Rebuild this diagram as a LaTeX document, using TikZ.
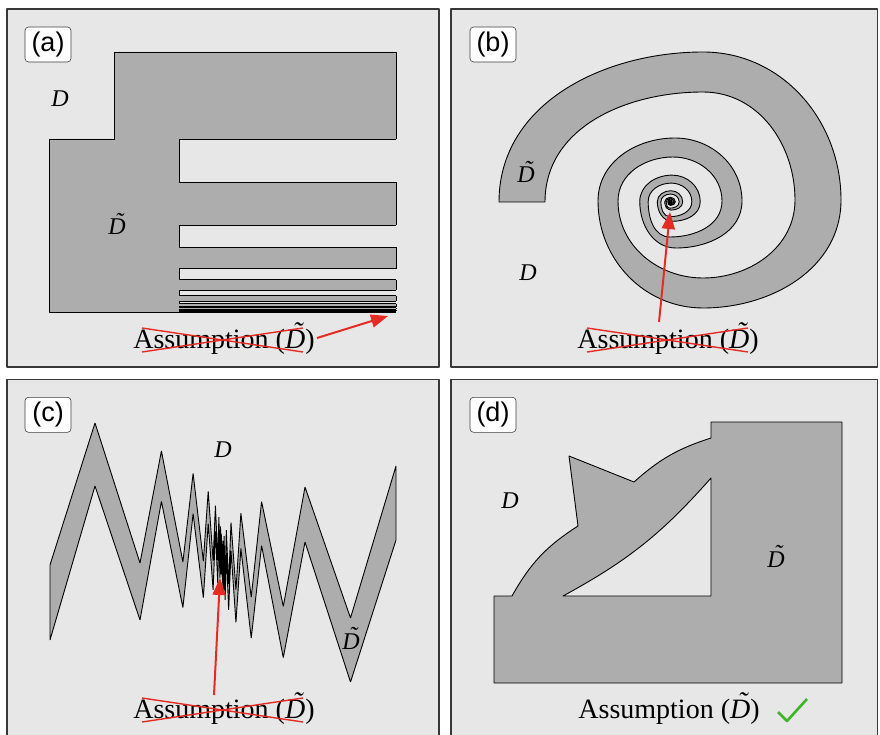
\documentclass[tikz,border=0pt]{standalone}
\usepackage{fontspec}
\setmainfont{Liberation Serif}
\newfontfamily\labfont{Liberation Sans}
\usetikzlibrary{calc,arrows.meta}
\definecolor{panelbg}{RGB}{231,231,231}
\definecolor{shapegray}{RGB}{173,173,173}
\definecolor{redmark}{RGB}{228,44,36}
\definecolor{greenmark}{RGB}{60,181,40}
\newcommand{\Dtil}{\textit{\rlap{\hspace{0.28em}\raisebox{0.22em}{\symbol{"02DC}}}D}}
\begin{document}
\begin{tikzpicture}[x=1pt,y=-1pt,line join=round,
  panel/.style={fill=panelbg,draw=black!78,line width=1.2pt},
  region/.style={fill=shapegray,draw=black,line width=0.9pt},
  tag/.style={draw=black!75,fill=white,rounded corners=3.5pt,line width=0.6pt,minimum width=46pt,minimum height=35pt,inner sep=0pt,font=\labfont\fontsize{27}{27}\selectfont},
  lbl/.style={inner sep=0pt,anchor=base,font=\fontsize{24}{24}\selectfont},
  assume/.style={inner sep=0pt,anchor=base,font=\fontsize{28}{28}\selectfont},
  cross/.style={draw=redmark,line width=1.4pt},
  redarrow/.style={draw=redmark,line width=2pt,-{Triangle[length=17pt,width=13pt]}}]
\useasboundingbox (0,0) rectangle (880,735);
\fill[white] (0,0) rectangle (880,735);
% panels
\draw[panel] (7,9) rectangle (439,367);
\draw[panel] (451,9) rectangle (877.5,367);
\draw[panel] (7,379.5) rectangle (439,745);
\draw[panel] (451,379.5) rectangle (877.5,745);
\node[tag] (taga) at (48,44.5) {(a)};
\node[tag] (tagb) at (493,44.5) {(b)};
\node[tag] (tagc) at (48,414.8) {(c)};
\node[tag] (tagd) at (493,414.8) {(d)};

% ---------- (a) comb ----------
\filldraw[region] (114,52) -- (396,52) -- (396,312) -- (49,312) -- (49,139) -- (114,139) -- cycle;
\foreach \k in {0,...,13} {
  \pgfmathsetmacro\ya{312-173*0.5^\k}
  \pgfmathsetmacro\yb{312-173*0.5^\k+43.25*0.5^\k}
  \fill[panelbg] (179,\ya) rectangle (396.6,\yb);
  \draw[line width=0.9pt] (396,\ya) -- (179,\ya) -- (179,\yb) -- (396,\yb);
}
\node[lbl] (Da) at (60,107) {\textit{D}};
\node[lbl] (Dta) at (117,235) {\Dtil};
\node[assume] (asa) at (224,348) {Assumption (\Dtil)};
\draw[cross] (142,328) -- (303,352);
\draw[cross] (142,352) -- (303,328);
\coordinate (aa1) at (317,338);
\coordinate (aa2) at (388,316);
\draw[redarrow] (aa1) -- (aa2);

% ---------- (b) spiral ----------
\coordinate (C) at (670,202);
\coordinate (oL0) at (499,202); \coordinate (oT0) at (703,52);
\coordinate (oR0) at (841,200); \coordinate (oB0) at (703,308);
\coordinate (oL1) at (598,201); \coordinate (oT1) at (675,138);
\coordinate (oR1) at (742,201); \coordinate (oB1) at (676,248);
\coordinate (iL0) at (545,202); \coordinate (iT0) at (703,92);
\coordinate (iR0) at (795,200); \coordinate (iB0) at (703,278);
\coordinate (iL1) at (618,201); \coordinate (iT1) at (673,157);
\coordinate (iR1) at (722,201); \coordinate (iB1) at (670,237);
\filldraw[region] (oL0) to[out=90,in=180] (oT0) to[out=0,in=90] (oR0) to[out=270,in=0] (oB0) to[out=180,in=270] (oL1)
  \foreach \k [evaluate=\k as \sa using {0.42^(\k-1)}, evaluate=\k as \sb using {0.42^\k}] in {1,...,8} {
    to[out=90,in=180] ($(C)!\sa!(oT1)$) to[out=0,in=90] ($(C)!\sa!(oR1)$)
    to[out=270,in=0] ($(C)!\sa!(oB1)$) to[out=180,in=270] ($(C)!\sb!(oL1)$)
  }
  -- ($(C)!0.00097!(iL1)$)
  \foreach \k [evaluate=\k as \sa using {0.42^(\k-1)}] in {8,7,...,1} {
    to[out=270,in=180] ($(C)!\sa!(iB1)$) to[out=0,in=270] ($(C)!\sa!(iR1)$)
    to[out=90,in=0] ($(C)!\sa!(iT1)$) to[out=180,in=90] ($(C)!\sa!(iL1)$)
  }
  to[out=270,in=180] (iB0) to[out=0,in=270] (iR0) to[out=90,in=0] (iT0) to[out=180,in=90] (iL0) -- cycle;
\node[lbl] (Dtb) at (526,183) {\Dtil};
\node[lbl] (Db) at (528,280) {\textit{D}};
\node[assume] (asb) at (668,348) {Assumption (\Dtil)};
\draw[cross] (587,328) -- (748,352);
\draw[cross] (587,352) -- (748,328);
\coordinate (ab1) at (659,322);
\coordinate (ab2) at (670,212);
\draw[redarrow] (ab1) -- (ab2);

% ---------- (c) zigzag ----------
\filldraw[region,line join=miter,miter limit=3] (50,565)
  \foreach \j [evaluate=\j as \rfac using {0.477^\j}, evaluate=\j as \qfac using {0.8^\j}] in {0,...,18} {
    -- ({222-127*\rfac},{563-140*\qfac}) -- ({222-82*\rfac},{558+5*\qfac})
  }
  \foreach \j [evaluate=\j as \rfac using {0.477^\j}, evaluate=\j as \qfac using {0.8^\j}] in {18,17,...,0} {
    -- ({222+83*\rfac},{560-73*\qfac}) -- ({222+128.5*\rfac},{560+58*\qfac})
  }
  -- (396,466) -- (396,540)
  \foreach \j [evaluate=\j as \rfac using {0.477^\j}, evaluate=\j as \qfac using {0.8^\j}] in {0,...,18} {
    -- ({222+128.5*\rfac},{560+122*\qfac}) -- ({222+83*\rfac},{560-18*\qfac})
  }
  \foreach \j [evaluate=\j as \rfac using {0.477^\j}, evaluate=\j as \qfac using {0.8^\j}] in {18,17,...,0} {
    -- ({222-82*\rfac},{558+62*\qfac}) -- ({222-127*\rfac},{563-77*\qfac})
  }
  -- (50,640) -- cycle;
\node[lbl] (Dc) at (223,457) {\textit{D}};
\node[lbl] (Dtc) at (351,649) {\Dtil};
\node[assume] (asc) at (224,718) {Assumption (\Dtil)};
\draw[cross] (142,698) -- (303,722);
\draw[cross] (142,722) -- (303,698);
\coordinate (ac1) at (214,695);
\coordinate (ac2) at (220,578);
\draw[redarrow] (ac1) -- (ac2);

% ---------- (d) ----------
\filldraw[region] (494,596) -- (512,596) to[bend left=14] (578,526) -- (569,456) -- (634,482)
  to[bend left=12] (711,438) -- (711,422) -- (842,422) -- (842,683) -- (494,683) -- cycle;
\filldraw[fill=panelbg,draw=black,line width=0.9pt] (563,596) -- (711,596) -- (711,478) to[bend left=10] (563,596) -- cycle;
\node[lbl] (Dd) at (510,508) {\textit{D}};
\node[lbl] (Dtd) at (776,567) {\Dtil};
\node[assume] (asd) at (669,718) {Assumption (\Dtil)};
\coordinate (ck1) at (778,712);
\coordinate (ck2) at (787,721);
\coordinate (ck3) at (807,699);
\draw[greenmark,line width=2.6pt] (ck1) -- (ck2) -- (ck3);
\end{tikzpicture}
\end{document}
